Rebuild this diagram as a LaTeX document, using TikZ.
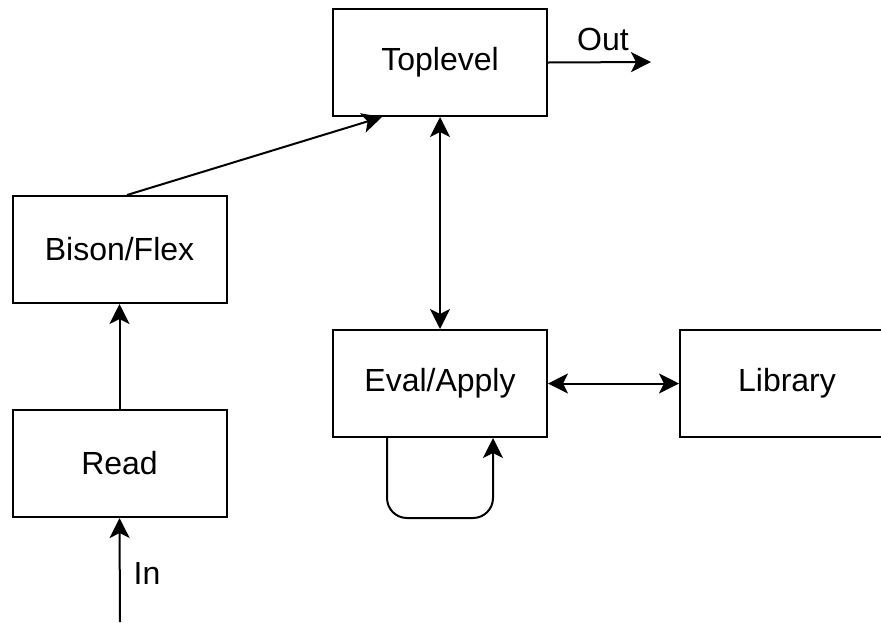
\documentclass[tikz,border=0pt]{standalone}
\usepackage{fontspec}
\setmainfont{Liberation Sans}
\usetikzlibrary{arrows.meta}
\begin{document}
\begin{tikzpicture}[x=0.5pt,y=-0.5pt,
  box/.style={draw,line width=1pt,minimum width=107pt,minimum height=53.5pt,inner sep=0pt,font=\fontsize{16}{19}\selectfont},
  lbl/.style={font=\fontsize{16}{19}\selectfont,inner sep=0pt},
  conn/.style={line width=1pt,-{Stealth[length=10pt,width=10pt,inset=2.5pt]}},
  conn2/.style={line width=1pt,{Stealth[length=10pt,width=10pt,inset=2.5pt]}-{Stealth[length=10pt,width=10pt,inset=2.5pt]}}]
\useasboundingbox (0,0) rectangle (881,622);
\node[box] (top) at (440,62.5) {Toplevel};
\node[box] (bison) at (119.5,249.5) {Bison/Flex};
\node[box] (read) at (119.5,463.5) {Read};
\node[box] (eval) at (440,383.5) {Eval/Apply};
\node[box] (lib) at (787,383.5) {Library};
\coordinate (in) at (120,622);
\coordinate (out) at (651,62);
\draw[conn] (in) -- (read.south);
\node[lbl] (inl) at (147,573) {In};
\draw[conn] (read.north) -- (bison.south);
\draw[conn] ([xshift=3.75pt]bison.north) -- ([xshift=-29pt]top.south);
\draw[conn] (top.east) -- (out);
\node[lbl] (outl) at (603,39) {Out};
\draw[conn2] (top.south) -- (eval.north);
\draw[conn2] (eval.east) -- (lib.west);
\draw[conn,rounded corners=10pt] ([xshift=-26.5pt]eval.south) -- ++(0,80) -| ([xshift=26.5pt]eval.south);
\end{tikzpicture}
\end{document}
